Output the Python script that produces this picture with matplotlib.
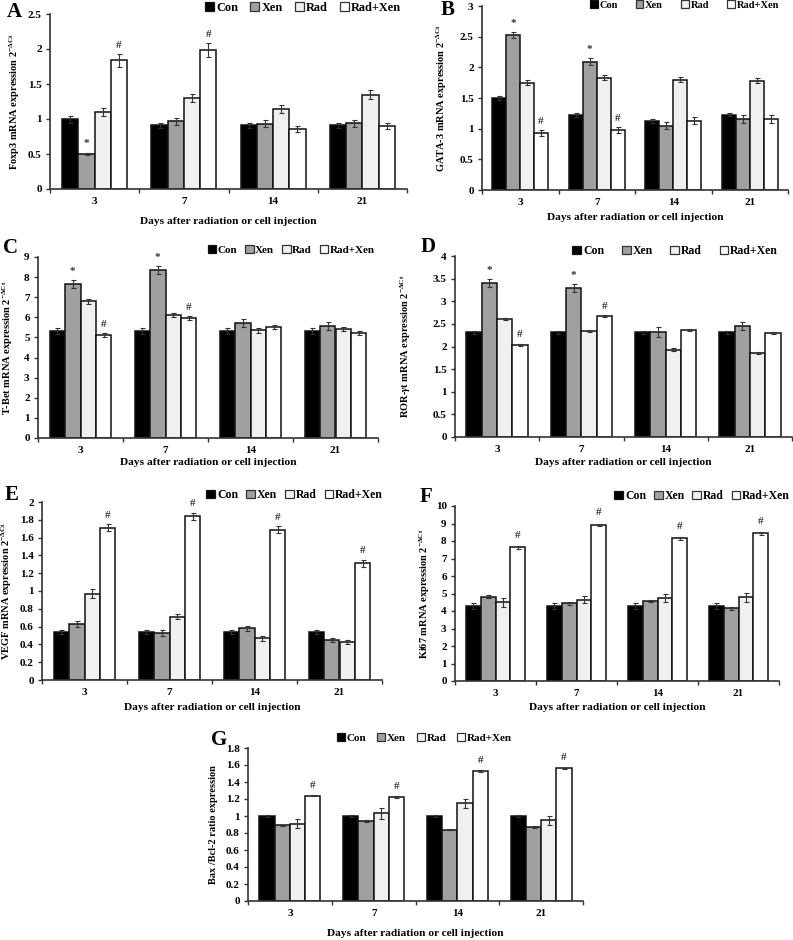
import matplotlib
matplotlib.use("Agg")
import matplotlib.pyplot as plt
from matplotlib.patches import Patch
import numpy as np

plt.rcParams['font.family'] = ['Liberation Serif', 'DejaVu Serif']
plt.rcParams['font.weight'] = 'bold'
plt.rcParams['mathtext.fontset'] = 'custom'
plt.rcParams['mathtext.rm'] = 'Liberation Serif:bold'
plt.rcParams['mathtext.it'] = 'Liberation Serif:bold:italic'
plt.rcParams['mathtext.bf'] = 'Liberation Serif:bold'

days = ['3', '7', '14', '21']
groups = ['Con', 'Xen', 'Rad', 'Rad+Xen']
colors = ['#000000', '#a0a0a0', '#f0f0f0', '#ffffff']

# Panel A: Foxp3
foxp3_con = [1.00, 0.91, 0.91, 0.91]
foxp3_xen = [0.50, 0.97, 0.93, 0.94]
foxp3_rad = [1.10, 1.30, 1.14, 1.35]
foxp3_radxen = [1.84, 1.98, 0.86, 0.90]
foxp3_err = [[0.05, 0.04, 0.04, 0.04], [0.02, 0.05, 0.05, 0.05],
             [0.05, 0.06, 0.06, 0.07], [0.09, 0.10, 0.04, 0.04]]

# Panel B: GATA-3
gata3_con = [1.50, 1.22, 1.13, 1.23]
gata3_xen = [2.53, 2.09, 1.05, 1.16]
gata3_rad = [1.75, 1.83, 1.80, 1.78]
gata3_radxen = [0.93, 0.98, 1.13, 1.16]
gata3_err = [[0.03, 0.03, 0.03, 0.03], [0.05, 0.06, 0.06, 0.06],
             [0.04, 0.04, 0.04, 0.04], [0.05, 0.05, 0.06, 0.06]]

# Panel C: T-Bet
tbet_con = [5.30, 5.30, 5.30, 5.30]
tbet_xen = [7.67, 8.37, 5.72, 5.57]
tbet_rad = [6.80, 6.10, 5.35, 5.42]
tbet_radxen = [5.10, 5.95, 5.52, 5.23]
tbet_err = [[0.15, 0.15, 0.15, 0.15], [0.20, 0.20, 0.22, 0.22],
            [0.12, 0.10, 0.12, 0.10], [0.10, 0.10, 0.08, 0.10]]

# Panel D: ROR-gt
rorgt_con = [2.31, 2.31, 2.31, 2.31]
rorgt_xen = [3.40, 3.29, 2.31, 2.46]
rorgt_rad = [2.60, 2.34, 1.93, 1.85]
rorgt_radxen = [2.04, 2.67, 2.36, 2.29]
rorgt_err = [[0.04, 0.04, 0.04, 0.04], [0.09, 0.09, 0.11, 0.09],
             [0.02, 0.03, 0.03, 0.02], [0.02, 0.02, 0.02, 0.02]]

# Panel E: VEGF
vegf_con = [0.54, 0.54, 0.54, 0.54]
vegf_xen = [0.63, 0.53, 0.58, 0.45]
vegf_rad = [0.97, 0.71, 0.47, 0.43]
vegf_radxen = [1.71, 1.84, 1.69, 1.31]
vegf_err = [[0.02, 0.02, 0.02, 0.02], [0.03, 0.03, 0.03, 0.02],
            [0.05, 0.03, 0.03, 0.02], [0.04, 0.04, 0.04, 0.04]]

# Panel F: Ki67
ki67_con = [4.30, 4.30, 4.30, 4.30]
ki67_xen = [4.82, 4.43, 4.57, 4.15]
ki67_rad = [4.50, 4.65, 4.75, 4.78]
ki67_radxen = [7.65, 8.93, 8.15, 8.43]
ki67_err = [[0.18, 0.18, 0.18, 0.18], [0.10, 0.08, 0.08, 0.08],
            [0.25, 0.22, 0.25, 0.26], [0.08, 0.07, 0.07, 0.07]]

# Panel G: Bax/Bcl-2
bax_con = [1.00, 1.00, 1.00, 1.00]
bax_xen = [0.89, 0.94, 0.84, 0.87]
bax_rad = [0.91, 1.03, 1.15, 0.95]
bax_radxen = [1.24, 1.22, 1.53, 1.56]
bax_err = [[0.01, 0.01, 0.01, 0.01], [0.01, 0.01, 0.01, 0.01],
           [0.05, 0.06, 0.05, 0.05], [0.01, 0.01, 0.01, 0.01]]

W, H = 793, 940
fig = plt.figure(figsize=(W / 100, H / 100), dpi=100)


def px_axes(x0, x1, ytop, ybot):
    return fig.add_axes([x0 / W, 1 - ybot / H, (x1 - x0) / W, (ybot - ytop) / H])


def panel(rect, series, errs, ymax, ystep, yfmt, ylabel, letter, letter_xy,
          ylab_x, xlab_y, legend_right, legend_y, colsp, legsize, star_idx,
          hash_idx, mark_off):
    x0, x1, ytop, ybot = rect
    ax = px_axes(x0, x1, ytop, ybot)
    n = len(days)
    x = np.arange(n)
    bw = 0.182
    offs = (np.arange(4) - 1.5) * bw
    for i, vals in enumerate(series):
        ax.bar(x + offs[i], vals, bw, color=colors[i], edgecolor='#111111',
               linewidth=1.1, zorder=2)
        ax.errorbar(x + offs[i], vals, yerr=errs[i], fmt='none',
                    ecolor='#333333', elinewidth=0.8, capsize=1.8,
                    capthick=0.8, zorder=3)
    for i, j in star_idx:
        ax.text(x[j] + offs[i], series[i][j] + errs[i][j] + mark_off, '*',
                ha='center', va='bottom', fontsize=8, color='#333333')
    for i, j in hash_idx:
        ax.text(x[j] + offs[i], series[i][j] + errs[i][j] + mark_off, '#',
                ha='center', va='bottom', fontsize=8, color='#333333')
    ax.set_xlim(-0.5, n - 0.5)
    ax.set_ylim(0, ymax)
    ticks = np.arange(0, ymax + ystep / 2, ystep)
    ax.set_yticks(ticks)
    ax.set_yticklabels([yfmt(t) for t in ticks], fontsize=8, fontweight='bold')
    ax.set_xticks(np.arange(-0.5, n, 1.0))
    ax.set_xticklabels([])
    ax.set_xticks(x, minor=True)
    ax.set_xticklabels(days, minor=True, fontsize=8, fontweight='bold')
    ax.tick_params(axis='x', which='minor', length=0, pad=6)
    ax.tick_params(axis='x', which='major', length=3, width=1, color='#333333', direction='out')
    ax.tick_params(axis='y', length=3, width=1, color='#333333', direction='out', pad=3)
    for s in ['top', 'right']:
        ax.spines[s].set_visible(False)
    for s in ['left', 'bottom']:
        ax.spines[s].set_color('#333333')
        ax.spines[s].set_linewidth(1.2)
    ax.set_ylabel(ylabel, fontsize=7.5, fontweight='bold')
    ax.yaxis.label.set_verticalalignment('center')
    ax.yaxis.set_label_coords((ylab_x - x0) / (x1 - x0), 0.5)
    ax.set_xlabel('Days after radiation or cell injection', fontsize=8.2, fontweight='bold')
    ax.xaxis.label.set_verticalalignment('center')
    ax.xaxis.set_label_coords(0.5, -(xlab_y - ybot) / (ybot - ytop))
    fig.text(letter_xy[0] / W, 1 - letter_xy[1] / H, letter, fontsize=15,
             fontweight='bold', ha='left', va='center')
    handles = [Patch(facecolor=colors[i],
                     edgecolor='#111111' if i == 0 else '#333333',
                     linewidth=0.9, label=groups[i]) for i in range(4)]
    fig.legend(handles=handles, loc='center right',
               bbox_to_anchor=(legend_right / W, 1 - legend_y / H), ncol=4,
               frameon=False, handlelength=0.75, handleheight=0.75,
               handletextpad=0.15, columnspacing=colsp, borderpad=0,
               borderaxespad=0, prop={'weight': 'bold', 'size': legsize})
    return ax


f1 = lambda t: ('%g' % round(t, 2))

sup = r'$^{\mathregular{-\Delta Ct}}$'

panel((50, 407, 14, 189), [foxp3_con, foxp3_xen, foxp3_rad, foxp3_radxen], foxp3_err,
      2.5, 0.5, f1, 'Foxp3 mRNA expression 2' + sup, 'A', (7, 12), 15, 221,
      401, 8, 1.0, 8.8, [(1, 0)], [(3, 0), (3, 1)], 0.06)

panel((482, 788, 6, 190), [gata3_con, gata3_xen, gata3_rad, gata3_radxen], gata3_err,
      3.0, 0.5, f1, 'GATA-3 mRNA expression 2' + sup, 'B', (441, 10), 442, 218,
      779, 5, 1.75, 7.5, [(1, 0), (1, 1)], [(3, 0), (3, 1)], 0.06)

panel((38, 378, 257, 438), [tbet_con, tbet_xen, tbet_rad, tbet_radxen], tbet_err,
      9, 1, f1, 'T-Bet mRNA expression 2' + sup, 'C', (3, 248), 8, 463,
      375, 250, 0.72, 8, [(1, 0), (1, 1)], [(3, 0), (3, 1)], 0.2)

panel((455, 792, 256, 437), [rorgt_con, rorgt_xen, rorgt_rad, rorgt_radxen], rorgt_err,
      4, 0.5, f1, 'ROR-$\\gamma$t mRNA expression 2' + sup, 'D', (421, 247), 406, 463,
      778, 251, 1.5, 8.5, [(1, 0), (1, 1)], [(3, 0), (3, 1)], 0.1)

panel((42, 382, 502, 680), [vegf_con, vegf_xen, vegf_rad, vegf_radxen], vegf_err,
      2, 0.2, f1, 'VEGF mRNA expression 2' + sup, 'E', (5, 495), 7, 707,
      383, 495, 0.68, 8.5, [], [(3, 0), (3, 1), (3, 2), (3, 3)], 0.05)

panel((455, 779, 506, 681), [ki67_con, ki67_xen, ki67_rad, ki67_radxen], ki67_err,
      10, 1, f1, 'Ki67 mRNA expression 2' + sup, 'F', (420, 497), 425, 707,
      790, 496, 0.65, 8.5, [], [(3, 0), (3, 1), (3, 2), (3, 3)], 0.35)

panel((248, 583, 748, 901), [bax_con, bax_xen, bax_rad, bax_radxen], bax_err,
      1.8, 0.2, f1, 'Bax /Bcl-2 ratio expression', 'G', (211, 740), 213, 933,
      512, 738, 0.96, 8, [], [(3, 0), (3, 1), (3, 2), (3, 3)], 0.06)

fig.savefig('out.png', dpi=100)
